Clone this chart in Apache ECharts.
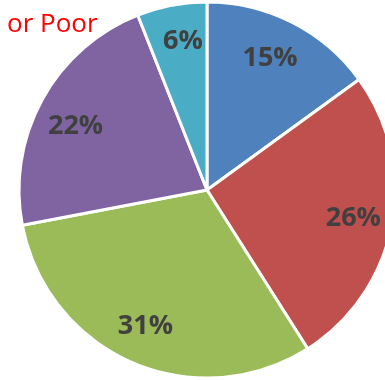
<!DOCTYPE html>
<html>
<head>
<meta charset="utf-8">
<script src="https://cdn.jsdelivr.net/npm/echarts@6/dist/echarts.min.js"></script>
<style>
html,body{margin:0;padding:0;background:#fff;}
#c{width:385px;height:380px;}
</style>
</head>
<body>
<div id="c"></div>
<script>
const categories = ['Slice 1', 'Slice 2', 'Slice 3', 'Slice 4', 'Slice 5'];
const values = [15, 26, 31, 22, 6];
const colors = ['#4F81BD', '#C0504D', '#9BBB59', '#8064A2', '#4BACC6'];
const titleText = 'or Poor';
// small label nudges (style only) to mimic the original label placement
const labelNudges = [[-5, 2], [-1, 0], [-2, -1], [0, 9], [4, -1]];

const chart = echarts.init(document.getElementById('c'), null, {renderer: 'canvas'});
const data = categories.map((c, i) => ({name: c, value: values[i], itemStyle: {color: colors[i]}}));
const center = [207, 190];
chart.setOption({
  animation: false,
  title: {
    text: titleText,
    left: 2,
    top: 7,
    textStyle: {color: '#FF0000', fontFamily: 'Open Sans', fontSize: 26, fontWeight: 'normal'}
  },
  series: [
    {
      type: 'pie',
      center: center,
      radius: [0, 188],
      startAngle: 90,
      clockwise: true,
      silent: true,
      data: data,
      itemStyle: {borderColor: '#ffffff', borderWidth: 3},
      label: {show: false},
      labelLine: {show: false}
    },
    {
      type: 'pie',
      center: center,
      radius: [106, 188],
      startAngle: 90,
      clockwise: true,
      silent: true,
      data: categories.map((c, i) => ({name: c, value: values[i], label: {offset: labelNudges[i]}})),
      itemStyle: {color: 'rgba(0,0,0,0)', borderWidth: 0},
      label: {
        show: true,
        position: 'inside',
        formatter: p => p.value + '%',
        color: '#404040',
        fontFamily: 'Open Sans',
        fontWeight: 'bold',
        fontSize: 27
      },
      labelLine: {show: false}
    }
  ]
});
</script>
</body>
</html>
